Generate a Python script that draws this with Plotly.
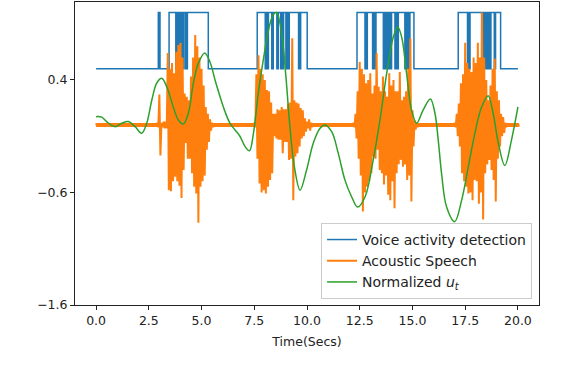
import numpy as np
import plotly.graph_objects as go

# ---- data ----
# normalized u_t (green), sampled points along the smooth curve
u_t = [0.0, 0.27, 0.5, 0.9, 1.22, 1.53, 1.85, 2.16, 2.4, 2.64, 2.87, 3.11, 3.35, 3.66, 3.9,
       4.14, 4.37, 4.61, 4.85, 5.15, 5.4, 5.64, 5.88, 6.11, 6.35, 6.59, 6.82, 7.06, 7.27, 7.46,
       7.69, 7.93, 8.17, 8.4, 8.56, 8.8, 9.0, 9.19, 9.4, 9.67, 9.98, 10.3, 10.62, 10.85, 11.17,
       11.48, 11.8, 12.12, 12.4, 12.75, 13.14, 13.46, 13.78, 14.09, 14.3, 14.49, 14.72, 14.96,
       15.2, 15.5, 15.85, 16.07, 16.22, 16.38, 16.62, 17.0, 17.33, 17.65, 17.96, 18.28, 18.59,
       18.83, 19.07, 19.38, 19.7, 20.0]
u_val = [0.074, 0.07, 0.03, -0.015, 0.015, 0.03, -0.015, -0.074, 0.015, 0.22, 0.37, 0.415, 0.34,
         0.16, 0.044, 0.009, 0.1, 0.37, 0.55, 0.64, 0.56, 0.4, 0.25, 0.12, 0.015, -0.044, -0.1,
         -0.19, -0.23, -0.074, 0.28, 0.58, 0.84, 0.98, 1.0, 0.81, 0.43, -0.015, -0.37, -0.58,
         -0.4, -0.16, -0.03, 0.0, -0.06, -0.25, -0.49, -0.64, -0.73, -0.64, -0.31, 0.044, 0.46,
         0.78, 0.87, 0.78, 0.46, 0.13, 0.015, 0.13, 0.23, 0.1, -0.13, -0.43, -0.73, -0.86, -0.67,
         -0.37, -0.074, 0.16, 0.26, 0.1, -0.16, -0.36, -0.13, 0.16]

# voice activity detection: levels and switch times (starts low)
vad_low, vad_high = 0.5, 1.0
vad_switch = [2.95, 2.97, 3.0, 3.03,
              3.46, 3.78, 3.82, 3.86, 3.9, 3.94, 4.01, 4.06, 4.1, 4.12, 4.14, 4.22, 4.26, 4.3, 4.33, 5.32,
              7.64, 8.02, 8.06, 8.09, 8.12, 8.14, 8.17, 8.33, 8.36, 8.38, 8.4, 8.57, 8.6, 8.62, 8.64,
              8.75, 8.79, 8.82, 8.85, 8.87, 8.89, 9.0, 9.04, 9.08, 9.11, 9.14, 9.16, 9.6, 9.63, 9.66, 9.7, 10.01,
              12.37, 12.75, 12.78, 12.82, 12.86, 13.11, 13.15, 13.2, 13.23, 13.25, 13.27,
              13.62, 13.66, 13.7, 13.73, 13.77, 13.82, 13.86, 13.9, 13.94, 13.97, 13.99, 14.01,
              14.17, 14.21, 14.26, 14.29, 14.31, 14.33, 14.64, 14.68, 14.72, 14.76, 14.8, 14.84,
              14.86, 14.88, 15.07,
              17.17, 17.61, 17.65, 17.69, 17.73, 18.28, 18.32, 18.36, 18.4, 18.44, 18.47, 18.5, 18.52,
              18.59, 18.63, 18.67, 18.72, 18.88, 18.91, 18.93, 18.94, 19.18]

# acoustic speech: upper / lower envelope every 0.1 s inside the bursts
speech_base = 0.015
b1_start = 2.9
b1_hi = [0.02, 0.27, 0.02, 0.03, 0.03, 0.64, 0.5, 0.55, 0.46, 0.65, 0.71, 0.73, 0.6, 0.28, 0.25,
         0.22, 0.43, 0.6, 0.8, 0.7, 0.6, 0.5, 0.35, 0.16, 0.1, 0.05, 0.02]
b1_lo = [-0.02, -0.27, -0.02, -0.03, -0.03, -0.58, -0.59, -0.5, -0.46, -0.5, -0.54, -0.65, -0.4,
         -0.16, -0.3, -0.3, -0.43, -0.55, -0.61, -0.87, -0.55, -0.5, -0.45, -0.22, -0.15, -0.05, -0.02]
b2_start = 7.5
b2_hi = [0.02, 0.45, 0.62, 0.5, 0.45, 0.4, 0.31, 0.3, 0.2, 0.1, 0.1, 0.14, 0.13, 0.16, 0.14, 0.14,
         0.19, 0.2, 0.77, 0.22, 0.2, 0.19, 0.15, 0.13, 0.06, 0.03, 0.05, 0.02]
b2_lo = [-0.02, -0.3, -0.52, -0.6, -0.58, -0.61, -0.55, -0.49, -0.43, -0.1, -0.12, -0.13, -0.13,
         -0.25, -0.15, -0.15, -0.31, -0.3, -0.67, -0.28, -0.25, -0.19, -0.12, -0.1, -0.06, -0.03, -0.05, -0.02]
b3_start = 12.2
b3_hi = [0.02, 0.1, 0.3, 0.56, 0.5, 0.45, 0.37, 0.4, 0.46, 0.28, 0.35, 0.64, 0.34, 0.3, 0.43, 0.3,
         0.25, 0.46, 0.35, 0.4, 0.3, 0.3, 0.47, 0.22, 0.25, 0.3, 0.5, 0.77, 0.13, 0.04, 0.02]
b3_lo = [-0.02, -0.12, -0.3, -0.45, -0.77, -0.6, -0.55, -0.5, -0.43, -0.28, -0.3, -0.22, -0.4, -0.43,
         -0.53, -0.45, -0.62, -0.67, -0.5, -0.74, -0.43, -0.35, -0.31, -0.37, -0.35, -0.49, -0.45,
         -0.68, -0.19, -0.04, -0.02]
b4_start = 17.0
b4_hi = [0.02, 0.1, 0.19, 0.37, 0.45, 0.73, 0.55, 0.5, 0.47, 0.6, 0.55, 0.73, 0.6, 1.0, 0.6, 0.4,
         0.22, 0.35, 0.5, 0.59, 0.3, 0.22, 0.1, 0.07, 0.02]
b4_lo = [-0.02, -0.1, -0.19, -0.43, -0.5, -0.55, -0.61, -0.6, -0.67, -0.49, -0.5, -0.7, -0.6, -0.84,
         -0.43, -0.35, -0.31, -0.4, -0.49, -0.68, -0.3, -0.19, -0.1, -0.07, -0.02]

x_ticks = [0.0, 2.5, 5.0, 7.5, 10.0, 12.5, 15.0, 17.5, 20.0]
y_ticks = [-1.6, -0.6, 0.4]
y_ticktext = ["\u22121.6", "\u22120.6", "0.4"]

STEP = 0.1


def zigzag(t0, hi, lo):
    xs, ys = [], []
    for i, (h, l) in enumerate(zip(hi, lo)):
        t = t0 + i * STEP
        xs += [t, t + STEP / 2]
        ys += [h, l]
    return xs, ys


def baseline(t0, t1):
    n = int(round((t1 - t0) / STEP))
    return zigzag(t0, [speech_base] * n, [-speech_base] * n)


bursts = [(b1_start, b1_hi, b1_lo), (b2_start, b2_hi, b2_lo),
          (b3_start, b3_hi, b3_lo), (b4_start, b4_hi, b4_lo)]
sp_x, sp_y = [], []
t_cur = 0.0
for start, hi, lo in bursts:
    bx, by = baseline(t_cur, start)
    sx, sy = zigzag(start, hi, lo)
    sp_x += bx + sx
    sp_y += by + sy
    t_cur = start + len(hi) * STEP
bx, by = baseline(t_cur, 20.0 + STEP)
sp_x += bx
sp_y += by

vad_x, vad_y = [0.0], [vad_low]
state = False
for s in vad_switch:
    state = not state
    vad_x.append(s)
    vad_y.append(vad_high if state else vad_low)
vad_x.append(20.0)
vad_y.append(vad_low)

fig = go.Figure()
fig.add_trace(go.Scatter(x=vad_x, y=vad_y, mode="lines", line_shape="hv",
                         line=dict(color="#1f77b4", width=1.5),
                         name="Voice activity detection"))
fig.add_trace(go.Scatter(x=sp_x, y=sp_y, mode="lines",
                         line=dict(color="#ff7f0e", width=2),
                         name="Acoustic Speech"))
fig.add_trace(go.Scatter(x=u_t, y=u_val, mode="lines", line_shape="spline",
                         line=dict(color="#2ca02c", width=1.5, smoothing=1.0),
                         name="Normalized <i>u</i><sub><i>t</i></sub>"))

axis_common = dict(showline=True, linecolor="#222", linewidth=1, mirror=True,
                   ticks="outside", ticklen=4, tickcolor="#222", showgrid=False,
                   zeroline=False, tickfont=dict(size=12.5, color="#222"))

fig.update_xaxes(range=[-1.0, 21.0], tickvals=x_ticks,
                 ticktext=[f"{v:.1f}" for v in x_ticks],
                 title=dict(text="Time(Secs)", standoff=10, font=dict(size=12.5, color="#222")),
                 **axis_common)
fig.update_yaxes(range=[-1.6, 1.093], tickvals=y_ticks, ticktext=y_ticktext, **axis_common)

fig.update_layout(
    width=564, height=378,
    margin=dict(l=75, r=25, t=2, b=73),
    plot_bgcolor="white", paper_bgcolor="white",
    font=dict(family="DejaVu Sans", color="#222"),
    showlegend=True,
    legend=dict(x=0.985, y=0.02, xanchor="right", yanchor="bottom",
                bgcolor="rgba(255,255,255,0.85)", bordercolor="#cccccc", borderwidth=1,
                font=dict(size=14, color="#222"), itemwidth=30, tracegroupgap=0),
)

# drop the page's default body margin so the figure sits at the window origin
fig.write_html("out.html", config={"displayModeBar": False},
               post_script="document.body.style.margin='0';")
